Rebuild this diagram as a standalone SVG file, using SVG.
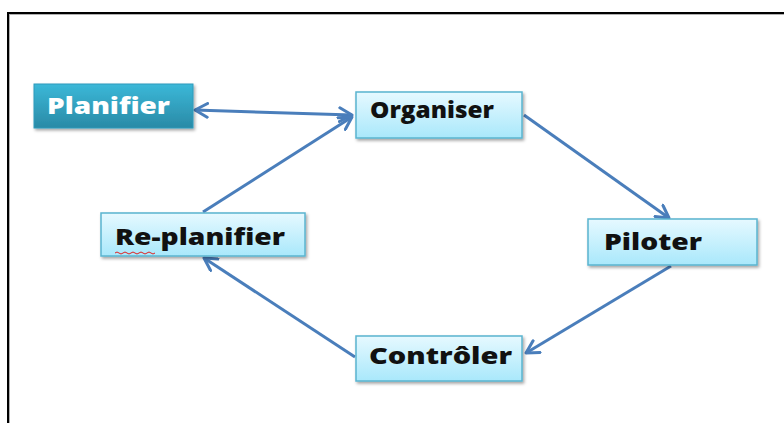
<svg xmlns="http://www.w3.org/2000/svg" width="784" height="423" viewBox="0 0 784 423">
  <defs>
    <linearGradient id="gTeal" x1="0" y1="0" x2="0" y2="1">
      <stop offset="0" stop-color="#3bb8d8"/>
      <stop offset="1" stop-color="#2a8aa6"/>
    </linearGradient>
    <linearGradient id="gLight" x1="0" y1="0" x2="0" y2="1">
      <stop offset="0" stop-color="#e6f9ff"/>
      <stop offset="1" stop-color="#a9e8fb"/>
    </linearGradient>
    <filter id="shadow" x="-10%" y="-20%" width="125%" height="150%">
      <feDropShadow dx="1.5" dy="2" stdDeviation="1.5" flood-color="#000" flood-opacity="0.35"/>
    </filter>
    <marker id="arrow" viewBox="0 0 12 12" refX="10" refY="6" markerWidth="5.5" markerHeight="5.5" orient="auto-start-reverse" markerUnits="strokeWidth">
      <path d="M1,1 L10,6 L1,11" fill="none" stroke="#4a7ebb" stroke-width="2.2" stroke-linecap="round" stroke-linejoin="round"/>
    </marker>
  </defs>
  <style>
    .box { fill: url(#gLight); stroke: #5ab4cf; stroke-width: 1.5; filter: url(#shadow); }
    .lbl { font-family: "Open Sans", "Liberation Sans", sans-serif; font-weight: 800; font-size: 23px; fill: #111; }
    .edge { fill: none; stroke: #4a7ebb; stroke-width: 3; marker-end: url(#arrow); }
  </style>

  <rect width="784" height="423" fill="#fff"/>

  <!-- frame -->
  <path d="M8,423 V13 H784" fill="none" stroke="#b0b0b0" stroke-width="2" transform="translate(1,1)"/>
  <path d="M8,423 V13 H784" fill="none" stroke="#000" stroke-width="2"/>

  <g id="connectors">
    <line class="edge" x1="195" y1="110" x2="352" y2="115" marker-start="url(#arrow)"/>
    <line class="edge" x1="203" y1="212" x2="352" y2="117"/>
    <line class="edge" x1="524" y1="115" x2="669" y2="218"/>
    <line class="edge" x1="671" y1="266" x2="526" y2="353"/>
    <line class="edge" x1="355" y1="357" x2="204" y2="258"/>
  </g>

  <g id="planifier">
    <rect x="34" y="84" width="159" height="44" fill="url(#gTeal)" stroke="#2f9abb" stroke-width="1" filter="url(#shadow)"/>
    <text x="47" y="114" class="lbl" style="fill:#fff" textLength="123" lengthAdjust="spacingAndGlyphs">Planifier</text>
  </g>

  <g id="organiser">
    <rect class="box" x="356" y="92" width="166" height="46"/>
    <text x="370" y="118" class="lbl" textLength="124" lengthAdjust="spacingAndGlyphs">Organiser</text>
  </g>

  <g id="replanifier">
    <rect class="box" x="101" y="213" width="204" height="43"/>
    <text x="115" y="245" class="lbl" textLength="170" lengthAdjust="spacingAndGlyphs">Re-planifier</text>
    <path d="M115,253 q2,-2 4,0 t4,0 t4,0 t4,0 t4,0 t4,0 t4,0 t4,0 t4,0 t4,0" fill="none" stroke="#e02020" stroke-width="1"/>
  </g>

  <g id="piloter">
    <rect class="box" x="588" y="219" width="169" height="46"/>
    <text x="604" y="250" class="lbl" textLength="98" lengthAdjust="spacingAndGlyphs">Piloter</text>
  </g>

  <g id="controler">
    <rect class="box" x="356" y="336" width="166" height="45"/>
    <text x="369" y="364" class="lbl" textLength="143" lengthAdjust="spacingAndGlyphs">Contrôler</text>
  </g>
</svg>
